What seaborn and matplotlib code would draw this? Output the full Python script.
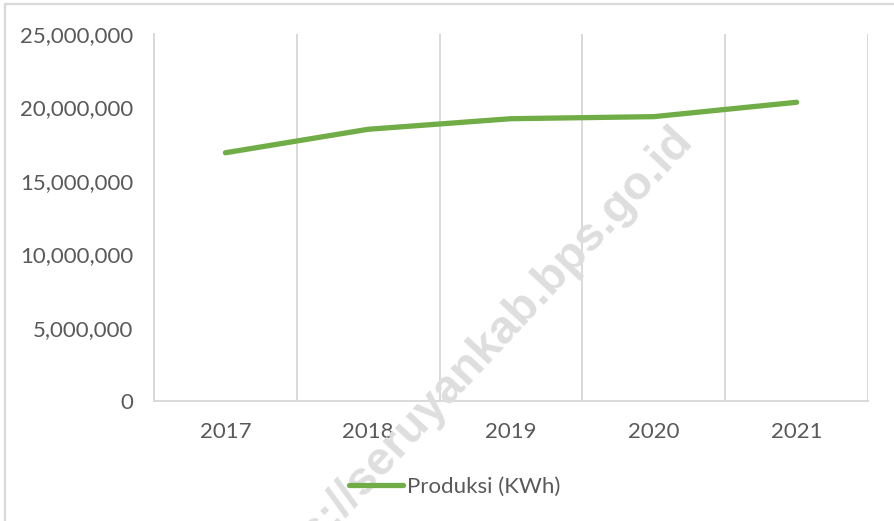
import matplotlib
matplotlib.use("Agg")
import matplotlib.pyplot as plt
import seaborn as sns
import pandas as pd
from matplotlib.ticker import FuncFormatter, FixedLocator
from matplotlib.lines import Line2D

years = ["2017", "2018", "2019", "2020", "2021"]
produksi = [16910000, 18510000, 19230000, 19370000, 20350000]
series_name = "Produksi (KWh)"
y_ticks = [0, 5000000, 10000000, 15000000, 20000000, 25000000]

df = pd.DataFrame({"Tahun": years, series_name: produksi})

sns.set_theme(style="white")
plt.rcParams["font.family"] = ["Lato", "DejaVu Sans"]

W, H = 895, 521
fig = plt.figure(figsize=(W / 100, H / 100), dpi=100)
fig.patch.set_facecolor("white")

# outer chart border (top and left visible)
fig.add_artist(Line2D([5 / W, 5 / W], [0, 1 - 4 / H], transform=fig.transFigure,
                      color="#d9d9d9", lw=1.6))
fig.add_artist(Line2D([5 / W, 1], [1 - 4 / H, 1 - 4 / H], transform=fig.transFigure,
                      color="#d9d9d9", lw=1.6))

ax = fig.add_axes([154 / W, 1 - 401 / H, (868 - 154) / W, (401 - 34) / H])
ax.set_facecolor("none")

green = "#70AD47"
sns.lineplot(data=df, x="Tahun", y=series_name, ax=ax, color=green, lw=3.8,
             solid_capstyle="round", sort=False, legend=False, zorder=3)

ax.set_xlim(-0.5, len(years) - 0.5)
ax.set_ylim(y_ticks[0], y_ticks[-1])
ax.yaxis.set_major_locator(FixedLocator(y_ticks))
ax.yaxis.set_major_formatter(FuncFormatter(lambda v, p: f"{int(v):,}"))
ax.xaxis.set_major_locator(FixedLocator(range(len(years))))
ax.set_xticklabels(years)
ax.xaxis.set_minor_locator(FixedLocator([i - 0.5 for i in range(len(years) + 1)]))

ax.grid(False)
ax.grid(True, which="minor", axis="x", color="#d9d9d9", lw=1.4)
for s in ["top", "right"]:
    ax.spines[s].set_visible(False)
for s in ["left", "bottom"]:
    ax.spines[s].set_color("#d9d9d9")
    ax.spines[s].set_linewidth(1.4)

ax.tick_params(axis="x", which="major", length=0, pad=15, labelsize=16, labelcolor="#595959")
ax.tick_params(axis="x", which="minor", length=5, width=1.4, color="#d9d9d9", direction="out")
ax.tick_params(axis="y", which="major", length=0, pad=15, labelsize=16, labelcolor="#595959")
ax.set_xlabel("")
ax.set_ylabel("")

# watermark
fig.text(466 / W, 1 - 368 / H, "https://seruyankab.bps.go.id", rotation=47,
         rotation_mode="anchor", ha="center", va="center", fontsize=34,
         fontweight="bold", color="#dedede", family=["Liberation Sans", "DejaVu Sans"],
         zorder=0.5)

handle = Line2D([], [], color=green, lw=3.8, solid_capstyle="round")
fig.legend([handle], [series_name], loc="center", bbox_to_anchor=(455 / W, 1 - 487 / H),
           frameon=False, fontsize=16, labelcolor="#595959", handlelength=2.4,
           handletextpad=0.2, borderaxespad=0)

fig.savefig("out.png", dpi=100, facecolor="white")
